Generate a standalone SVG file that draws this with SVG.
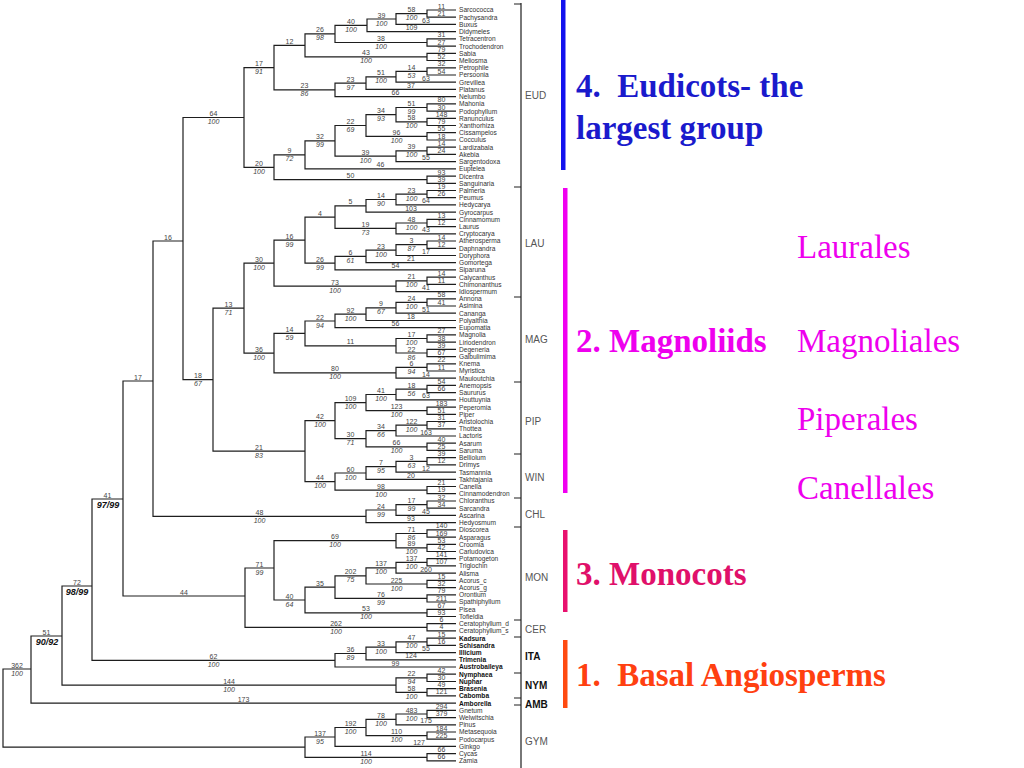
<svg xmlns="http://www.w3.org/2000/svg" width="1024" height="768" viewBox="0 0 1024 768">
<style>
.e{fill:none;stroke:#1e1e1e;stroke-width:1.2}
.n{font-family:"Liberation Sans",Arial,sans-serif;font-size:7px;fill:#444;text-anchor:middle}
.b{font-family:"Liberation Sans",Arial,sans-serif;font-size:7px;fill:#444;text-anchor:middle;font-style:italic}
.bb{font-family:"Liberation Sans",Arial,sans-serif;font-size:9px;fill:#111;text-anchor:middle;font-style:italic;font-weight:bold}
.t{font-family:"Liberation Sans",Arial,sans-serif;font-size:6.6px;fill:#333}
.tb{font-family:"Liberation Sans",Arial,sans-serif;font-size:6.6px;fill:#111;font-weight:bold}
.g{font-family:"Liberation Sans",Arial,sans-serif;font-size:10px;fill:#555}
.gb{font-family:"Liberation Sans",Arial,sans-serif;font-size:10px;fill:#111;font-weight:bold}
.big{font-family:"Liberation Serif","Times New Roman",serif;font-size:33px}
</style>
<rect width="1024" height="768" fill="#fff"/>
<g id="connectors">
<path class="e" d="M456 10H427V17.2H456M427 13.6H396V24.4H456M396 19H367V31.7H456M456 38.9H427V46.1H456M367 25.3H335V42.5H427M456 53.3H427V60.5H456M335 33.9H305V56.9H427M456 67.8H427V75H456M427 71.4H396V82.2H456M396 76.8H366V89.4H456M366 83.1H335V96.6H456M305 45.4H274V89.9H335"/>
<path class="e" d="M456 103.9H427V111.1H456M456 118.3H427V125.5H456M427 107.5H396V121.9H427M456 132.7H427V140H456M396 114.7H366V136.4H427M456 147.2H427V154.4H456M427 150.8H396V161.6H456M366 125.5H335V156.2H396M335 140.9H305V168.8H456M456 176.1H427V183.3H456M305 154.9H274V179.7H427M274 67.6H244V167.3H274"/>
<path class="e" d="M456 190.5H427V197.7H456M427 194.1H396V204.9H456M396 199.5H366V212.2H456M456 219.4H427V226.6H456M427 223H396V233.8H456M366 205.9H335V228.4H396M456 241H427V248.3H456M427 244.7H396V255.5H456M396 250.1H366V262.7H456M366 256.4H335V269.9H456M335 217.2H305V263.2H335M456 277.1H427V284.4H456M427 280.8H396V291.6H456M305 240.2H274V286.2H396"/>
<path class="e" d="M456 298.8H427V306H456M427 302.4H396V313.2H456M396 307.8H366V320.5H456M366 314.2H335V327.7H456M456 334.9H427V342.1H456M456 349.3H427V356.6H456M427 338.5H396V353H427M335 321H305V345.8H396M456 363.8H427V371H456M427 367.4H396V378.2H456M305 333.4H274V372.8H396M274 263.2H244V353.1H274"/>
<path class="e" d="M456 385.4H427V392.7H456M427 389.1H396V399.9H456M456 407.1H427V414.3H456M396 394.5H366V410.7H427M456 421.5H427V428.8H456M427 425.2H396V436H456M456 443.2H427V450.4H456M396 430.6H366V446.8H427M366 402.6H335V438.7H366M456 457.6H427V464.9H456M427 461.3H396V472.1H456M396 466.7H366V479.3H456M456 486.5H427V493.7H456M366 473H335V490.1H427M335 420.7H305V481.6H335M244 308.2H213V451.2H305M244 117.5H183V379.7H213"/>
<path class="e" d="M456 501H427V508.2H456M427 504.6H396V515.4H456M396 510H366V522.6H456M183 241H153V516.3H366"/>
<path class="e" d="M456 529.8H427V537.1H456M456 544.3H427V551.5H456M427 533.5H396V547.9H427M456 558.7H427V565.9H456M427 562.3H396V573.2H456M456 580.4H427V587.6H456M396 567.8H366V584H427M456 594.8H427V602H456M366 575.9H335V598.4H427M456 609.3H427V616.5H456M335 587.2H305V612.9H427M396 540.7H274V600H305M456 623.7H427V630.9H456M274 568H245V627.3H427M153 381H123V596H245"/>
<path class="e" d="M456 638.1H427V645.4H456M427 641.8H396V652.6H456M396 647.2H366V659.8H456M366 653.5H335V667H456M123 499H92V660.3H335M456 674.2H427V681.5H456M456 688.7H427V695.9H456M427 677.9H396V692.3H427M92 586H62V685.1H396M62 636H31V703.1H456"/>
<path class="e" d="M456 710.3H427V717.6H456M427 714H396V724.8H456M456 732H427V739.2H456M396 719.4H366V735.6H427M366 727.5H335V746.4H456M456 753.7H427V760.9H456M335 737H305V757.3H427M31 669H3V747.2H305"/>
<path class="e" d="M521 3V768M514 4H521M514 187H521M514 297H521M514 382H521M514 454H521M514 498H521M514 527H521M514 620H521M514 637H521M514 673H521M514 698H521M514 705H521"/>
</g>
<g id="branch-labels">
<text class="n" x="441.5" y="8.5">11</text><text class="n" x="441.5" y="15.7">21</text>
<text class="n" x="411.5" y="12.1">58</text><text class="b" x="411.5" y="20.1">100</text><text class="n" x="426" y="22.9">63</text>
<text class="n" x="381.5" y="17.5">39</text><text class="b" x="381.5" y="25.5">100</text><text class="n" x="411.5" y="30.2">109</text>
<text class="n" x="441.5" y="37.4">31</text><text class="n" x="441.5" y="44.6">27</text>
<text class="n" x="351" y="23.8">40</text><text class="b" x="351" y="31.8">100</text><text class="n" x="381" y="41">38</text><text class="b" x="381" y="49">100</text>
<text class="n" x="441.5" y="51.8">79</text><text class="n" x="441.5" y="59">52</text>
<text class="n" x="320" y="32.4">26</text><text class="b" x="320" y="40.4">98</text><text class="n" x="366" y="55.4">43</text><text class="b" x="366" y="63.4">100</text>
<text class="n" x="441.5" y="66.3">32</text><text class="n" x="441.5" y="73.5">54</text>
<text class="n" x="411.5" y="69.9">14</text><text class="b" x="411.5" y="77.9">53</text><text class="n" x="426" y="80.7">63</text>
<text class="n" x="381" y="75.3">51</text><text class="b" x="381" y="83.3">100</text><text class="n" x="411" y="87.9">37</text>
<text class="n" x="350.5" y="81.6">23</text><text class="b" x="350.5" y="89.6">97</text><text class="n" x="395.5" y="95.1">66</text>
<text class="n" x="289.5" y="43.9">12</text><text class="n" x="304.5" y="88.4">23</text><text class="b" x="304.5" y="96.4">86</text>
<text class="n" x="441.5" y="102.4">80</text><text class="n" x="441.5" y="109.6">30</text>
<text class="n" x="441.5" y="116.8">148</text><text class="n" x="441.5" y="124">79</text>
<text class="n" x="411.5" y="106">51</text><text class="b" x="411.5" y="114">99</text><text class="n" x="411.5" y="120.4">58</text><text class="b" x="411.5" y="128.4">100</text>
<text class="n" x="441.5" y="131.2">55</text><text class="n" x="441.5" y="138.5">18</text>
<text class="n" x="381" y="113.2">34</text><text class="b" x="381" y="121.2">93</text><text class="n" x="396.5" y="134.9">96</text><text class="b" x="396.5" y="142.9">100</text>
<text class="n" x="441.5" y="145.7">14</text><text class="n" x="441.5" y="152.9">24</text>
<text class="n" x="411.5" y="149.3">39</text><text class="b" x="411.5" y="157.3">100</text><text class="n" x="426" y="160.1">55</text>
<text class="n" x="350.5" y="124">22</text><text class="b" x="350.5" y="132">69</text><text class="n" x="365.5" y="154.7">39</text><text class="b" x="365.5" y="162.7">100</text>
<text class="n" x="320" y="139.4">32</text><text class="b" x="320" y="147.4">99</text><text class="n" x="380.5" y="167.3">46</text>
<text class="n" x="441.5" y="174.6">93</text><text class="n" x="441.5" y="181.8">39</text>
<text class="n" x="289.5" y="153.4">9</text><text class="b" x="289.5" y="161.4">72</text><text class="n" x="350.5" y="178.2">50</text>
<text class="n" x="259" y="66.1">17</text><text class="b" x="259" y="74.1">91</text><text class="n" x="259" y="165.8">20</text><text class="b" x="259" y="173.8">100</text>
<text class="n" x="213.5" y="116">64</text><text class="b" x="213.5" y="124">100</text><text class="n" x="198" y="378.2">18</text><text class="b" x="198" y="386.2">67</text>
<text class="n" x="441.5" y="189">19</text><text class="n" x="441.5" y="196.2">26</text>
<text class="n" x="411.5" y="192.6">23</text><text class="b" x="411.5" y="200.6">100</text><text class="n" x="426" y="203.4">64</text>
<text class="n" x="381" y="198">14</text><text class="b" x="381" y="206">90</text><text class="n" x="411" y="210.7">103</text>
<text class="n" x="441.5" y="217.9">13</text><text class="n" x="441.5" y="225.1">12</text>
<text class="n" x="411.5" y="221.5">48</text><text class="b" x="411.5" y="229.5">100</text><text class="n" x="426" y="232.3">43</text>
<text class="n" x="350.5" y="204.4">5</text><text class="n" x="365.5" y="226.9">19</text><text class="b" x="365.5" y="234.9">73</text>
<text class="n" x="441.5" y="239.5">14</text><text class="n" x="441.5" y="246.8">12</text>
<text class="n" x="411.5" y="243.2">3</text><text class="b" x="411.5" y="251.2">87</text><text class="n" x="426" y="254">17</text>
<text class="n" x="381" y="248.6">23</text><text class="b" x="381" y="256.6">100</text><text class="n" x="411" y="261.2">21</text>
<text class="n" x="350.5" y="254.9">6</text><text class="b" x="350.5" y="262.9">61</text><text class="n" x="395.5" y="268.4">54</text>
<text class="n" x="320" y="215.7">4</text><text class="n" x="320" y="261.7">26</text><text class="b" x="320" y="269.7">99</text>
<text class="n" x="441.5" y="275.6">14</text><text class="n" x="441.5" y="282.9">11</text>
<text class="n" x="411.5" y="279.3">21</text><text class="b" x="411.5" y="287.3">100</text><text class="n" x="426" y="290.1">41</text>
<text class="n" x="289.5" y="238.7">16</text><text class="b" x="289.5" y="246.7">99</text><text class="n" x="335" y="284.7">73</text><text class="b" x="335" y="292.7">100</text>
<text class="n" x="441.5" y="297.3">58</text><text class="n" x="441.5" y="304.5">41</text>
<text class="n" x="411.5" y="300.9">24</text><text class="b" x="411.5" y="308.9">100</text><text class="n" x="426" y="311.7">51</text>
<text class="n" x="381" y="306.3">9</text><text class="b" x="381" y="314.3">67</text><text class="n" x="411" y="319">18</text>
<text class="n" x="350.5" y="312.7">92</text><text class="b" x="350.5" y="320.7">100</text><text class="n" x="395.5" y="326.2">56</text>
<text class="n" x="441.5" y="333.4">27</text><text class="n" x="441.5" y="340.6">38</text>
<text class="n" x="441.5" y="347.8">39</text><text class="n" x="441.5" y="355.1">67</text>
<text class="n" x="411.5" y="337">17</text><text class="b" x="411.5" y="345">100</text><text class="n" x="411.5" y="351.5">22</text><text class="b" x="411.5" y="359.5">86</text>
<text class="n" x="320" y="319.5">22</text><text class="b" x="320" y="327.5">94</text><text class="n" x="350.5" y="344.3">11</text>
<text class="n" x="441.5" y="362.3">22</text><text class="n" x="441.5" y="369.5">11</text>
<text class="n" x="411.5" y="365.9">6</text><text class="b" x="411.5" y="373.9">94</text><text class="n" x="426" y="376.7">14</text>
<text class="n" x="289.5" y="331.9">14</text><text class="b" x="289.5" y="339.9">59</text><text class="n" x="335" y="371.3">80</text><text class="b" x="335" y="379.3">100</text>
<text class="n" x="259" y="261.7">30</text><text class="b" x="259" y="269.7">100</text><text class="n" x="259" y="351.6">36</text><text class="b" x="259" y="359.6">100</text>
<text class="n" x="228.5" y="306.7">13</text><text class="b" x="228.5" y="314.7">71</text><text class="n" x="259" y="449.7">21</text><text class="b" x="259" y="457.7">83</text>
<text class="n" x="441.5" y="383.9">54</text><text class="n" x="441.5" y="391.2">66</text>
<text class="n" x="411.5" y="387.6">18</text><text class="b" x="411.5" y="395.6">56</text><text class="n" x="426" y="398.4">63</text>
<text class="n" x="441.5" y="405.6">183</text><text class="n" x="441.5" y="412.8">51</text>
<text class="n" x="381" y="393">41</text><text class="b" x="381" y="401">100</text><text class="n" x="396.5" y="409.2">123</text><text class="b" x="396.5" y="417.2">100</text>
<text class="n" x="441.5" y="420">31</text><text class="n" x="441.5" y="427.3">37</text>
<text class="n" x="411.5" y="423.7">122</text><text class="b" x="411.5" y="431.7">100</text><text class="n" x="426" y="434.5">163</text>
<text class="n" x="441.5" y="441.7">40</text><text class="n" x="441.5" y="448.9">25</text>
<text class="n" x="381" y="429.1">34</text><text class="b" x="381" y="437.1">66</text><text class="n" x="396.5" y="445.3">66</text><text class="b" x="396.5" y="453.3">100</text>
<text class="n" x="350.5" y="401.1">109</text><text class="b" x="350.5" y="409.1">100</text><text class="n" x="350.5" y="437.2">30</text><text class="b" x="350.5" y="445.2">71</text>
<text class="n" x="441.5" y="456.1">39</text><text class="n" x="441.5" y="463.4">12</text>
<text class="n" x="411.5" y="459.8">3</text><text class="b" x="411.5" y="467.8">63</text><text class="n" x="426" y="470.6">12</text>
<text class="n" x="381" y="465.2">7</text><text class="b" x="381" y="473.2">95</text><text class="n" x="411" y="477.8">20</text>
<text class="n" x="441.5" y="485">21</text><text class="n" x="441.5" y="492.2">19</text>
<text class="n" x="350.5" y="471.5">60</text><text class="b" x="350.5" y="479.5">100</text><text class="n" x="381" y="488.6">98</text><text class="b" x="381" y="496.6">100</text>
<text class="n" x="320" y="419.2">42</text><text class="b" x="320" y="427.2">100</text><text class="n" x="320" y="480.1">44</text><text class="b" x="320" y="488.1">100</text>
<text class="n" x="441.5" y="499.5">32</text><text class="n" x="441.5" y="506.7">34</text>
<text class="n" x="411.5" y="503.1">17</text><text class="b" x="411.5" y="511.1">99</text><text class="n" x="426" y="513.9">45</text>
<text class="n" x="381" y="508.5">24</text><text class="b" x="381" y="516.5">99</text><text class="n" x="411" y="521.1">93</text>
<text class="n" x="168" y="239.5">16</text><text class="n" x="259.5" y="514.8">48</text><text class="b" x="259.5" y="522.8">100</text>
<text class="n" x="441.5" y="528.3">140</text><text class="n" x="441.5" y="535.6">169</text>
<text class="n" x="441.5" y="542.8">53</text><text class="n" x="441.5" y="550">42</text>
<text class="n" x="411.5" y="532">71</text><text class="b" x="411.5" y="540">86</text><text class="n" x="411.5" y="546.4">89</text><text class="b" x="411.5" y="554.4">100</text>
<text class="n" x="441.5" y="557.2">141</text><text class="n" x="441.5" y="564.4">107</text>
<text class="n" x="411.5" y="560.8">137</text><text class="b" x="411.5" y="568.8">100</text><text class="n" x="426" y="571.7">260</text>
<text class="n" x="441.5" y="578.9">15</text><text class="n" x="441.5" y="586.1">32</text>
<text class="n" x="381" y="566.3">137</text><text class="b" x="381" y="574.3">100</text><text class="n" x="396.5" y="582.5">225</text><text class="b" x="396.5" y="590.5">100</text>
<text class="n" x="441.5" y="593.3">79</text><text class="n" x="441.5" y="600.5">211</text>
<text class="n" x="350.5" y="574.4">202</text><text class="b" x="350.5" y="582.4">75</text><text class="n" x="381" y="596.9">76</text><text class="b" x="381" y="604.9">99</text>
<text class="n" x="441.5" y="607.8">67</text><text class="n" x="441.5" y="615">93</text>
<text class="n" x="320" y="585.7">35</text><text class="n" x="366" y="611.4">53</text><text class="b" x="366" y="619.4">100</text>
<text class="n" x="335" y="539.2">69</text><text class="b" x="335" y="547.2">100</text><text class="n" x="289.5" y="598.5">40</text><text class="b" x="289.5" y="606.5">64</text>
<text class="n" x="441.5" y="622.2">6</text><text class="n" x="441.5" y="629.4">4</text>
<text class="n" x="259.5" y="566.5">71</text><text class="b" x="259.5" y="574.5">99</text><text class="n" x="336" y="625.8">262</text><text class="b" x="336" y="633.8">100</text>
<text class="n" x="138" y="379.5">17</text><text class="n" x="184" y="594.5">44</text>
<text class="n" x="441.5" y="636.6">15</text><text class="n" x="441.5" y="643.9">16</text>
<text class="n" x="411.5" y="640.3">47</text><text class="b" x="411.5" y="648.3">100</text><text class="n" x="426" y="651.1">55</text>
<text class="n" x="381" y="645.7">33</text><text class="b" x="381" y="653.7">100</text><text class="n" x="411" y="658.3">124</text>
<text class="n" x="350.5" y="652">36</text><text class="b" x="350.5" y="660">89</text><text class="n" x="395.5" y="665.5">99</text>
<text class="n" x="107.5" y="497.5">41</text><text class="bb" x="108" y="508">97/99</text><text class="n" x="213.5" y="658.8">62</text><text class="b" x="213.5" y="666.8">100</text>
<text class="n" x="441.5" y="672.7">42</text><text class="n" x="441.5" y="680">30</text>
<text class="n" x="441.5" y="687.2">49</text><text class="n" x="441.5" y="694.4">121</text>
<text class="n" x="411.5" y="676.4">22</text><text class="b" x="411.5" y="684.4">94</text><text class="n" x="411.5" y="690.8">58</text><text class="b" x="411.5" y="698.8">100</text>
<text class="n" x="77" y="584.5">72</text><text class="bb" x="77" y="595">98/99</text><text class="n" x="229" y="683.6">144</text><text class="b" x="229" y="691.6">100</text>
<text class="n" x="46.5" y="634.5">51</text><text class="bb" x="47" y="645">90/92</text><text class="n" x="243.5" y="701.6">173</text>
<text class="n" x="441.5" y="708.8">294</text><text class="n" x="441.5" y="716.1">379</text>
<text class="n" x="411.5" y="712.5">483</text><text class="b" x="411.5" y="720.5">100</text><text class="n" x="426" y="723.3">175</text>
<text class="n" x="441.5" y="730.5">184</text><text class="n" x="441.5" y="737.7">225</text>
<text class="n" x="381" y="717.9">78</text><text class="b" x="381" y="725.9">100</text><text class="n" x="396.5" y="734.1">110</text><text class="b" x="396.5" y="742.1">100</text>
<text class="n" x="350.5" y="726">192</text><text class="b" x="350.5" y="734">100</text><text class="n" x="419" y="745">127</text>
<text class="n" x="441.5" y="752.2">66</text><text class="n" x="441.5" y="759.4">66</text>
<text class="n" x="320" y="735.5">137</text><text class="b" x="320" y="743.5">95</text><text class="n" x="366" y="755.8">114</text><text class="b" x="366" y="763.8">100</text>
<text class="n" x="17" y="667.5">362</text><text class="b" x="17" y="675.5">100</text>
</g>
<g id="taxa">
<text class="t" x="459" y="12.4">Sarcococca</text><text class="t" x="459" y="19.6">Pachysandra</text><text class="t" x="459" y="26.8">Buxus</text><text class="t" x="459" y="34.1">Didymeles</text><text class="t" x="459" y="41.3">Tetracentron</text><text class="t" x="459" y="48.5">Trochodendron</text><text class="t" x="459" y="55.7">Sabia</text><text class="t" x="459" y="62.9">Meliosma</text><text class="t" x="459" y="70.2">Petrophile</text><text class="t" x="459" y="77.4">Persoonia</text><text class="t" x="459" y="84.6">Grevillea</text><text class="t" x="459" y="91.8">Platanus</text><text class="t" x="459" y="99">Nelumbo</text><text class="t" x="459" y="106.3">Mahonia</text><text class="t" x="459" y="113.5">Podophyllum</text><text class="t" x="459" y="120.7">Ranunculus</text><text class="t" x="459" y="127.9">Xanthorhiza</text><text class="t" x="459" y="135.1">Cissampelos</text><text class="t" x="459" y="142.4">Cocculus</text><text class="t" x="459" y="149.6">Lardizabala</text><text class="t" x="459" y="156.8">Akebia</text><text class="t" x="459" y="164">Sargentodoxa</text><text class="t" x="459" y="171.2">Euptelea</text><text class="t" x="459" y="178.5">Dicentra</text><text class="t" x="459" y="185.7">Sanguinaria</text>
<text class="t" x="459" y="192.9">Palmeria</text><text class="t" x="459" y="200.1">Peumus</text><text class="t" x="459" y="207.3">Hedycarya</text><text class="t" x="459" y="214.6">Gyrocarpus</text><text class="t" x="459" y="221.8">Cinnamomum</text><text class="t" x="459" y="229">Laurus</text><text class="t" x="459" y="236.2">Cryptocarya</text><text class="t" x="459" y="243.4">Atherosperma</text><text class="t" x="459" y="250.7">Daphnandra</text><text class="t" x="459" y="257.9">Doryphora</text><text class="t" x="459" y="265.1">Gomortega</text><text class="t" x="459" y="272.3">Siparuna</text><text class="t" x="459" y="279.5">Calycanthus</text><text class="t" x="459" y="286.8">Chimonanthus</text><text class="t" x="459" y="294">Idiospermum</text>
<text class="t" x="459" y="301.2">Annona</text><text class="t" x="459" y="308.4">Asimina</text><text class="t" x="459" y="315.6">Cananga</text><text class="t" x="459" y="322.9">Polyalthia</text><text class="t" x="459" y="330.1">Eupomatia</text><text class="t" x="459" y="337.3">Magnolia</text><text class="t" x="459" y="344.5">Liriodendron</text><text class="t" x="459" y="351.7">Degeneria</text><text class="t" x="459" y="359">Galbulimima</text><text class="t" x="459" y="366.2">Knema</text><text class="t" x="459" y="373.4">Myristica</text><text class="t" x="459" y="380.6">Mauloutchia</text>
<text class="t" x="459" y="387.8">Anemopsis</text><text class="t" x="459" y="395.1">Saururus</text><text class="t" x="459" y="402.3">Houttuynia</text><text class="t" x="459" y="409.5">Peperomia</text><text class="t" x="459" y="416.7">Piper</text><text class="t" x="459" y="423.9">Aristolochia</text><text class="t" x="459" y="431.2">Thottea</text><text class="t" x="459" y="438.4">Lactoris</text><text class="t" x="459" y="445.6">Asarum</text><text class="t" x="459" y="452.8">Saruma</text>
<text class="t" x="459" y="460">Belliolum</text><text class="t" x="459" y="467.3">Drimys</text><text class="t" x="459" y="474.5">Tasmannia</text><text class="t" x="459" y="481.7">Takhtajania</text><text class="t" x="459" y="488.9">Canella</text><text class="t" x="459" y="496.1">Cinnamodendron</text>
<text class="t" x="459" y="503.4">Chloranthus</text><text class="t" x="459" y="510.6">Sarcandra</text><text class="t" x="459" y="517.8">Ascarina</text><text class="t" x="459" y="525">Hedyosmum</text>
<text class="t" x="459" y="532.2">Dioscorea</text><text class="t" x="459" y="539.5">Asparagus</text><text class="t" x="459" y="546.7">Croomia</text><text class="t" x="459" y="553.9">Carludovica</text><text class="t" x="459" y="561.1">Potamogeton</text><text class="t" x="459" y="568.3">Triglochin</text><text class="t" x="459" y="575.6">Alisma</text><text class="t" x="459" y="582.8">Acorus_c</text><text class="t" x="459" y="590">Acorus_g</text><text class="t" x="459" y="597.2">Orontium</text><text class="t" x="459" y="604.4">Spathiphyllum</text><text class="t" x="459" y="611.7">Pisea</text><text class="t" x="459" y="618.9">Tofieldia</text>
<text class="t" x="459" y="626.1">Ceratophyllum_d</text><text class="t" x="459" y="633.3">Ceratophyllum_s</text>
<text class="tb" x="459" y="640.5">Kadsura</text><text class="tb" x="459" y="647.8">Schisandra</text><text class="tb" x="459" y="655">Illicium</text><text class="tb" x="459" y="662.2">Trimenia</text><text class="tb" x="459" y="669.4">Austrobaileya</text>
<text class="tb" x="459" y="676.6">Nymphaea</text><text class="tb" x="459" y="683.9">Nuphar</text><text class="tb" x="459" y="691.1">Brasenia</text><text class="tb" x="459" y="698.3">Cabomba</text><text class="tb" x="459" y="705.5">Amborella</text>
<text class="t" x="459" y="712.7">Gnetum</text><text class="t" x="459" y="720">Welwitschia</text><text class="t" x="459" y="727.2">Pinus</text><text class="t" x="459" y="734.4">Metasequoia</text><text class="t" x="459" y="741.6">Podocarpus</text><text class="t" x="459" y="748.8">Ginkgo</text><text class="t" x="459" y="756.1">Cycas</text><text class="t" x="459" y="763.3">Zamia</text>
</g>
<g id="groups">
<text class="g" x="525" y="99">EUD</text><text class="g" x="525" y="247">LAU</text><text class="g" x="525" y="343">MAG</text><text class="g" x="525" y="425">PIP</text><text class="g" x="525" y="481">WIN</text><text class="g" x="525" y="518">CHL</text><text class="g" x="525" y="581">MON</text><text class="g" x="525" y="633">CER</text><text class="gb" x="525" y="660">ITA</text><text class="gb" x="525" y="689">NYM</text><text class="gb" x="525" y="708">AMB</text><text class="g" x="525" y="745">GYM</text>
</g>
<g id="eudicots">
<rect x="561" y="0" width="4.5" height="170" fill="#1212ee"/>
<text class="big" x="576" y="97" fill="#1a1acc" font-weight="bold" xml:space="preserve">4.  Eudicots- the</text>
<text class="big" x="576" y="139" fill="#1a1acc" font-weight="bold">largest group</text>
</g>
<g id="magnoliids">
<rect x="563" y="188" width="4.5" height="305" fill="#f000f0"/>
<text class="big" x="576" y="352" fill="#ee00ee" font-weight="bold">2. Magnoliids</text>
<text class="big" x="797" y="258" fill="#ee00ee">Laurales</text>
<text class="big" x="797" y="352" fill="#ee00ee">Magnoliales</text>
<text class="big" x="797" y="430" fill="#ee00ee">Piperales</text>
<text class="big" x="797" y="499" fill="#ee00ee">Canellales</text>
</g>
<g id="monocots">
<rect x="563" y="530" width="4.5" height="82" fill="#e8106e"/>
<text class="big" x="576" y="585" fill="#e0106a" font-weight="bold">3. Monocots</text>
</g>
<g id="basal">
<rect x="563" y="640" width="4.5" height="68" fill="#ff4a10"/>
<text class="big" x="576" y="686" fill="#ff4010" font-weight="bold" xml:space="preserve">1.  Basal Angiosperms</text>
</g>
</svg>
